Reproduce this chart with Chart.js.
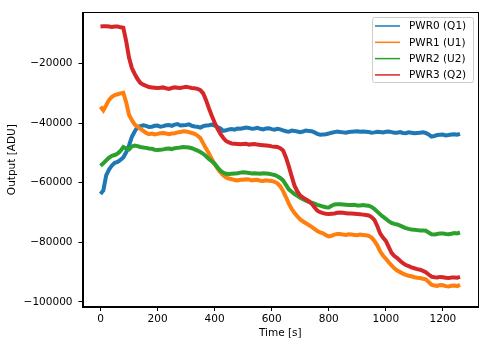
<!DOCTYPE html>
<html>
<head>
<meta charset="utf-8">
<script src="https://cdn.jsdelivr.net/npm/chart.js@4/dist/chart.umd.min.js"></script>
<style>
html,body{margin:0;padding:0;background:#fff;}
#wrap{width:489px;height:347px;position:relative;}
</style>
</head>
<body>
<div id="wrap"><canvas id="c" width="489" height="347"></canvas></div>
<script>
// time axis (s)
const times = [0,10,20,30,40,50,60,70,80,90,100,110,120,130,140,150,160,170,180,190,200,210,220,230,240,250,260,270,280,290,300,310,320,330,340,350,360,370,380,390,400,410,420,430,440,450,460,470,480,490,500,510,520,530,540,550,560,570,580,590,600,610,620,630,640,650,660,670,680,690,700,710,720,730,740,750,760,770,780,790,800,810,820,830,840,850,860,870,880,890,900,910,920,930,940,950,960,970,980,990,1000,1010,1020,1030,1040,1050,1060,1070,1080,1090,1100,1110,1120,1130,1140,1150,1160,1170,1180,1190,1200,1210,1220,1230,1240,1250,1260];
const seriesNames = ["PWR0 (Q1)","PWR1 (U1)","PWR2 (U2)","PWR3 (Q2)"];
const pwr0 = [-63800,-62600,-57500,-55600,-54200,-53300,-53000,-52300,-51500,-49800,-47500,-44600,-42800,-41300,-41000,-40700,-40900,-41300,-41200,-40900,-40800,-41200,-41000,-40700,-40600,-40900,-40500,-40300,-40800,-40700,-40600,-40400,-40900,-41100,-41200,-41500,-41000,-40800,-40700,-40500,-40800,-41300,-41800,-42600,-42400,-42100,-42000,-42200,-41800,-41900,-41700,-41500,-41600,-41900,-41800,-41600,-41900,-42100,-41800,-41700,-42000,-42200,-41900,-42100,-42400,-42700,-42900,-42500,-42600,-42800,-43000,-42800,-42500,-42600,-42700,-43100,-43600,-43900,-43800,-43700,-43500,-43200,-43000,-42800,-43000,-43100,-43200,-43000,-42900,-42800,-42700,-42900,-42800,-42900,-43000,-43200,-43100,-42900,-43000,-43100,-42900,-42800,-43000,-43200,-43200,-43000,-43300,-43400,-43100,-43200,-43400,-43300,-43200,-43100,-43300,-43800,-44500,-44300,-44000,-43900,-43800,-44100,-44000,-43800,-43700,-43900,-43600];
const pwr1 = [-34500,-35700,-34000,-32200,-31200,-30600,-30300,-30000,-29800,-33000,-37200,-39000,-40500,-41200,-41900,-42600,-43300,-43700,-43500,-43800,-43600,-43400,-43300,-43500,-43700,-43500,-43400,-43100,-43000,-42700,-42800,-43000,-43300,-43600,-44200,-45000,-46800,-48500,-50200,-52000,-53800,-55200,-56500,-57500,-58200,-58600,-58800,-59100,-59200,-59000,-59000,-58800,-58900,-59200,-59100,-59000,-59300,-59400,-59200,-59300,-59400,-59700,-60200,-61200,-62800,-64800,-67000,-68800,-70200,-71300,-72300,-73000,-73600,-74200,-74800,-75500,-76200,-76700,-77000,-77600,-78000,-77800,-77400,-77200,-77200,-77400,-77500,-77300,-77400,-77500,-77600,-77400,-77500,-77600,-77800,-78400,-79500,-81000,-83000,-84400,-85500,-86700,-87700,-88700,-89500,-90000,-90500,-90900,-91200,-91400,-91700,-91900,-92000,-92200,-92400,-93300,-94200,-94500,-94600,-94300,-94400,-94700,-94800,-94600,-94500,-94700,-94300];
const pwr2 = [-54300,-53500,-52500,-51600,-51000,-50700,-50200,-49300,-48000,-48500,-48800,-47800,-47500,-47700,-48000,-48200,-48300,-48500,-48600,-48900,-49000,-48900,-48800,-48600,-48500,-48700,-48400,-48300,-48200,-48000,-48100,-48200,-48400,-48800,-49200,-49700,-50300,-51100,-52000,-52800,-53600,-54800,-55900,-56600,-57000,-57100,-57000,-56900,-56800,-56600,-56500,-56600,-56700,-56900,-56800,-56900,-57000,-56800,-56900,-57000,-57200,-57400,-57800,-58400,-59200,-60700,-62200,-63000,-63800,-64400,-65000,-65500,-66000,-66400,-66700,-67000,-67400,-67700,-68000,-68200,-68300,-67700,-67300,-67200,-67200,-67300,-67400,-67500,-67500,-67400,-67600,-67600,-67500,-67600,-67700,-68100,-68800,-69700,-70600,-71400,-72100,-72900,-73500,-73800,-74000,-74400,-74800,-75200,-75500,-75700,-75800,-75900,-76000,-76000,-76100,-76700,-77300,-77400,-77200,-77000,-77000,-77200,-77300,-77100,-76900,-77000,-76700];
const pwr3 = [-7600,-7500,-7500,-7600,-7700,-7600,-7600,-7800,-8000,-12500,-18000,-21500,-23500,-25200,-26500,-27100,-27500,-27900,-28000,-28100,-28200,-28100,-28000,-28300,-28500,-28200,-28000,-28100,-28200,-28000,-27800,-28000,-28200,-28300,-28500,-28900,-30000,-32300,-35000,-37500,-39800,-41800,-43500,-44900,-46000,-46500,-46800,-46900,-47000,-47100,-47000,-46900,-47200,-47100,-47000,-47200,-47300,-47400,-47500,-47600,-47800,-47900,-48000,-48400,-49200,-51500,-54500,-57800,-61000,-62900,-64300,-65000,-65600,-66200,-67000,-68200,-69400,-69900,-70200,-70400,-70500,-70400,-70300,-70100,-70000,-70100,-70200,-70300,-70300,-70400,-70500,-70600,-70700,-70800,-71000,-71500,-72500,-74500,-77000,-78400,-79500,-81500,-83500,-84600,-85300,-86200,-87000,-87600,-88000,-88400,-88700,-89000,-89200,-89600,-90000,-90800,-91500,-91700,-91800,-91600,-91700,-91900,-92000,-91800,-91800,-91900,-91600];
const xTicks = [0,200,400,600,800,1000,1200];
const yTicks = [-100000,-80000,-60000,-40000,-20000];

const colors = ["#1f77b4","#ff7f0e","#2ca02c","#d62728"];
const allSeries = [pwr0,pwr1,pwr2,pwr3];
const FONT = "'DejaVu Sans', sans-serif";
const FS = 10.5;

const datasets = allSeries.map((s,i)=>({
  label: seriesNames[i],
  data: times.map((t,j)=>({x:t,y:s[j]})),
  borderColor: colors[i],
  backgroundColor: colors[i],
  borderWidth: 4,
  pointRadius: 0,
  tension: 0,
  order: 3 - i,
  borderJoinStyle: 'miter'
}));

const frame = {
  id:'frame',
  afterDatasetsDraw(chart){
    const {ctx, chartArea:a} = chart;
    ctx.save();
    ctx.strokeStyle = '#000';
    ctx.lineWidth = 1;
    ctx.strokeRect(Math.round(a.left)+0.5, Math.round(a.top)+0.5, Math.round(a.right-a.left)-1, Math.round(a.bottom-a.top)-1);
    // legend
    const bx = 372, by = 17, bw = 101, bh = 65;
    ctx.fillStyle = 'rgba(255,255,255,0.8)';
    ctx.strokeStyle = '#cccccc';
    ctx.lineWidth = 1;
    ctx.beginPath();
    if (ctx.roundRect) ctx.roundRect(bx+0.5, by+0.5, bw, bh, 2); else ctx.rect(bx+0.5,by+0.5,bw,bh);
    ctx.fill(); ctx.stroke();
    ctx.font = FS + "px " + FONT;
    ctx.textBaseline = 'middle';
    ctx.textAlign = 'left';
    chart.data.datasets.forEach((d,i)=>{
      const y = by + 9 + i*16.3;
      ctx.strokeStyle = d.borderColor;
      ctx.lineWidth = 1.5;
      ctx.beginPath(); ctx.moveTo(bx+3, y); ctx.lineTo(bx+28, y); ctx.stroke();
      ctx.fillStyle = '#000';
      ctx.fillText(d.label, bx+37, y+0.5);
    });
    ctx.restore();
  }
};

const minus = v => String(v).replace('-', '\u2212');

new Chart(document.getElementById('c'), {
  type: 'line',
  data: { datasets },
  plugins: [frame],
  options: {
    responsive: false,
    animation: false,
    layout: { padding: { left: 0, right: 11, top: 11, bottom: 0 } },
    plugins: { legend: { display: false }, tooltip: { enabled: false } },
    scales: {
      x: {
        type: 'linear',
        min: -63, max: 1323,
        afterBuildTicks: s => { s.ticks = xTicks.map(v=>({value:v})); },
        afterFit: s => { s.height = 40; },
        grid: { display: true, drawOnChartArea: false, drawTicks: true, tickLength: 4, color: '#000' },
        border: { display: true, color: '#000' },
        ticks: { color: '#000', font: { family: FONT, size: FS }, padding: 2, maxRotation: 0, callback: v => minus(v) },
        title: { display: true, text: 'Time [s]', color: '#000', font: { family: FONT, size: FS }, padding: { top: 2, bottom: 7 } }
      },
      y: {
        type: 'linear',
        min: -101700, max: -2800,
        afterBuildTicks: s => { s.ticks = yTicks.map(v=>({value:v})); },
        afterFit: s => { s.width = 82.5; },
        grid: { display: true, drawOnChartArea: false, drawTicks: true, tickLength: 4, color: '#000' },
        border: { display: true, color: '#000' },
        ticks: { color: '#000', font: { family: FONT, size: FS }, padding: 6, callback: v => minus(v) },
        title: { display: true, text: 'Output [ADU]', color: '#000', font: { family: FONT, size: FS }, padding: { top: 6, bottom: 0 } }
      }
    }
  }
});
</script>
</body>
</html>
